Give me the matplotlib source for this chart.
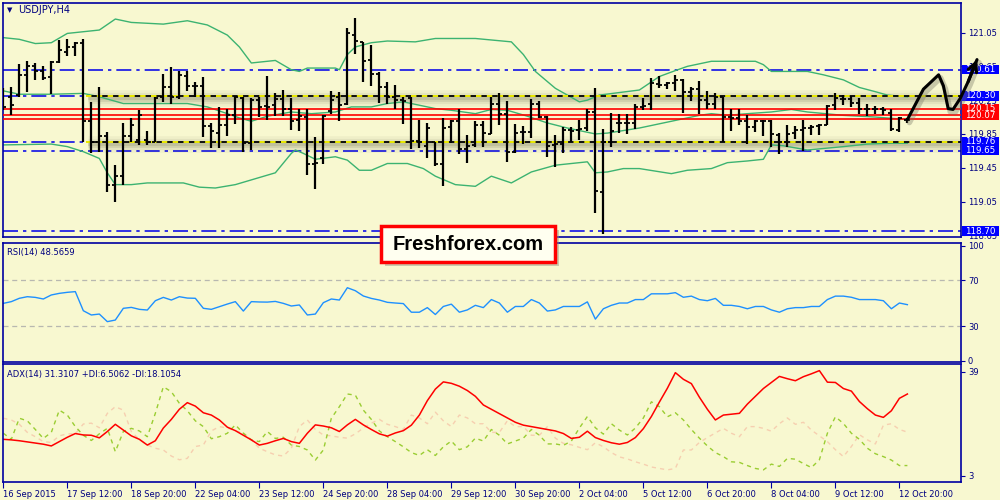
import numpy as np
import matplotlib
matplotlib.use('Agg')
import matplotlib.pyplot as plt
import matplotlib.transforms as mtransforms
from matplotlib.patches import Rectangle

plt.rcParams['font.family'] = ['DejaVu Sans']

BG = '#f8f8d0'
NAVY = '#0000a0'
TXT = '#000080'

# ---- USDJPY H4 bars ----
opens = [120.29, 120.29, 120.31, 120.55, 120.65, 120.59, 120.52, 120.70, 120.82, 120.88,
         120.93, 120.00, 119.76, 119.83, 119.24, 119.35, 119.83, 119.78, 119.78, 119.76,
         120.29, 120.41, 120.29, 120.54, 120.42, 120.42, 119.94, 119.86, 119.96, 120.08,
         120.27, 119.74, 120.25, 120.18, 120.19, 120.26, 120.15, 120.01, 120.05, 119.50,
         119.56, 120.12, 120.29, 120.21, 121.02, 120.94, 120.72, 120.56, 120.40, 120.29,
         120.25, 120.28, 119.77, 119.71, 119.75, 119.50, 119.93, 120.00, 119.67, 119.72,
         119.96, 119.85, 120.21, 120.09, 119.64, 119.87, 119.87, 120.21, 120.05, 119.72,
         119.73, 119.90, 119.90, 119.92, 120.11, 119.16, 119.76, 119.98, 119.98, 119.98,
         120.17, 120.21, 120.44, 120.43, 120.45, 120.49, 120.35, 120.38, 120.25, 120.20,
         120.29, 120.05, 120.04, 120.00, 119.93, 120.00, 120.00, 119.84, 119.75, 119.86,
         119.90, 119.92, 119.94, 119.96, 120.19, 120.26, 120.26, 120.22, 120.15, 120.14,
         120.15, 120.10, 119.90, 120.02]
highs = [120.39, 120.40, 120.68, 120.71, 120.69, 120.66, 120.71, 120.96, 120.97, 120.94,
         120.97, 120.23, 120.40, 119.87, 119.48, 119.98, 120.04, 120.13, 119.88, 120.29,
         120.56, 120.64, 120.60, 120.59, 120.47, 120.52, 119.98, 120.17, 120.14, 120.30,
         120.29, 120.27, 120.29, 120.54, 120.33, 120.37, 120.27, 120.15, 120.15, 119.81,
         120.07, 120.36, 120.35, 121.10, 121.22, 120.94, 120.90, 120.58, 120.46, 120.43,
         120.29, 120.29, 120.02, 119.98, 119.76, 120.04, 120.01, 120.14, 119.84, 120.00,
         120.00, 120.29, 120.33, 120.24, 119.97, 119.94, 120.26, 120.24, 120.06, 119.84,
         119.93, 119.93, 120.02, 120.15, 120.39, 119.91, 120.10, 120.09, 120.09, 120.21,
         120.28, 120.51, 120.54, 120.47, 120.55, 120.50, 120.40, 120.48, 120.36, 120.33,
         120.29, 120.15, 120.15, 120.07, 120.01, 120.02, 120.01, 119.86, 119.96, 119.94,
         120.02, 119.96, 119.97, 120.19, 120.33, 120.31, 120.30, 120.27, 120.20, 120.18,
         120.17, 120.15, 120.05, 120.04]
lows = [120.13, 120.08, 120.29, 120.35, 120.49, 120.49, 120.32, 120.69, 120.77, 120.77,
        119.76, 119.63, 119.64, 119.16, 119.04, 119.24, 119.76, 119.72, 119.72, 119.75,
        120.23, 120.21, 120.26, 120.36, 120.29, 119.81, 119.68, 119.68, 119.82, 119.97,
        119.64, 119.66, 120.05, 120.02, 120.06, 120.06, 119.90, 119.89, 119.36, 119.20,
        119.50, 120.09, 120.00, 120.19, 120.80, 120.47, 120.42, 120.22, 120.21, 120.14,
        119.97, 119.67, 119.68, 119.57, 119.47, 119.23, 119.74, 119.61, 119.51, 119.70,
        119.70, 119.85, 119.96, 119.52, 119.63, 119.73, 119.80, 120.04, 119.58, 119.46,
        119.63, 119.76, 119.78, 119.89, 118.92, 118.67, 119.69, 119.86, 119.85, 119.91,
        120.13, 120.13, 120.39, 120.38, 120.36, 120.10, 120.24, 120.09, 120.15, 120.15,
        119.75, 119.89, 119.95, 119.73, 119.87, 119.82, 119.69, 119.61, 119.69, 119.79,
        119.65, 119.84, 119.84, 119.95, 120.13, 120.19, 120.17, 120.09, 120.06, 120.09,
        120.07, 119.88, 119.87, 119.98]
closes = [120.17, 120.19, 120.55, 120.65, 120.59, 120.51, 120.70, 120.84, 120.88, 120.93,
          120.00, 119.76, 119.83, 119.24, 119.35, 119.83, 119.96, 120.08, 119.76, 120.27,
          120.41, 120.29, 120.55, 120.42, 120.42, 119.94, 119.88, 119.96, 120.08, 120.29,
          119.74, 120.25, 120.17, 120.17, 120.26, 120.14, 120.00, 120.06, 119.50, 119.51,
          120.06, 120.25, 120.19, 121.04, 120.95, 120.71, 120.56, 120.41, 120.29, 120.25,
          120.24, 119.77, 119.76, 119.92, 119.50, 119.92, 120.00, 119.67, 119.71, 119.96,
          119.86, 120.21, 120.09, 119.64, 119.86, 119.87, 120.21, 120.05, 119.71, 119.73,
          119.90, 119.89, 119.91, 120.11, 119.17, 119.76, 119.89, 119.98, 119.98, 120.17,
          120.18, 120.45, 120.43, 120.45, 120.49, 120.35, 120.38, 120.25, 120.20, 120.29,
          120.05, 120.04, 120.00, 119.93, 120.00, 120.00, 119.85, 119.75, 119.85, 119.90,
          119.92, 119.93, 119.96, 120.18, 120.27, 120.26, 120.22, 120.15, 120.14, 120.15,
          120.13, 119.91, 120.04, 120.01]

# Bollinger bands (sampled along the drawn lines)
upper_x = [0, 2, 4, 6, 8, 10, 12, 14, 16, 20, 23, 25.5, 28, 29.5, 31, 33, 34, 36, 37, 38,
           41.5, 42, 43, 44, 46, 48, 51.5, 54, 59, 63.5, 65, 66.5, 69, 72, 73, 74.5, 79.5, 82, 84, 85.5,
           88.5, 94, 95, 96, 100.5, 102.5, 105, 107, 109, 110.5, 113]
upper = [120.99, 120.97, 120.92, 120.93, 121.04, 121.06, 121.08, 121.21, 121.17, 121.15,
         121.19, 121.14, 121.02, 120.88, 120.69, 120.71, 120.72, 120.61, 120.59, 120.63,
         120.63, 120.61, 120.79, 120.88, 120.93, 120.95, 120.94, 120.98, 120.98, 120.94,
         120.79, 120.59, 120.39, 120.23, 120.25, 120.31, 120.37, 120.53, 120.60, 120.65,
         120.71, 120.71, 120.67, 120.59, 120.59, 120.55, 120.49, 120.40, 120.35, 120.31, 120.29]
middle_x = [0, 2, 6, 10, 12, 15, 18.5, 23, 25.5, 28, 29.5, 31, 33, 36, 38.5, 41.5, 43.5, 46, 48, 50,
            52, 54, 56, 59, 61, 63, 65.5, 68, 70.5, 74, 75.5, 79.5, 83.5, 87, 88.5, 90.5, 93, 96, 98.5, 100.5,
            105, 107, 109, 113]
middle = [120.36, 120.32, 120.32, 120.33, 120.29, 120.21, 120.21, 120.21, 120.17, 120.09,
          120.04, 120.00, 120.06, 120.11, 120.09, 120.11, 120.17, 120.17, 120.21, 120.23,
          120.19, 120.15, 120.13, 120.09, 120.14, 120.13, 120.06, 119.98, 119.92, 119.85,
          119.86, 119.92, 120.00, 120.07, 120.09, 120.07, 120.09, 120.11, 120.14, 120.11,
          120.07, 120.06, 120.05, 120.02]
lower_x = [0, 6, 8, 10, 12, 13, 14, 16, 18, 22.5, 24.5, 26.5, 29, 31.5, 34, 36, 36.5, 37.5, 39, 41.5,
           43, 44.5, 46, 48, 49, 50.5, 52.5, 54, 56.5, 59, 61, 63.5, 66, 69, 73, 74, 75.5, 77.5, 79.5, 83.5,
           85.5, 88.5, 90.5, 93, 95, 96, 97.5, 100.5, 105, 108, 111, 113]
lower = [119.72, 119.73, 119.70, 119.64, 119.56, 119.39, 119.25, 119.25, 119.27, 119.27,
         119.22, 119.21, 119.25, 119.32, 119.39, 119.62, 119.66, 119.62, 119.55, 119.58,
         119.54, 119.42, 119.42, 119.50, 119.50, 119.50, 119.44, 119.35, 119.25, 119.23,
         119.35, 119.27, 119.40, 119.48, 119.52, 119.39, 119.40, 119.44, 119.44, 119.38,
         119.42, 119.44, 119.51, 119.53, 119.55, 119.72, 119.71, 119.66, 119.70, 119.73,
         119.74, 119.74]

# horizontal levels
blue_levels = [120.61, 119.65, 118.70]
key_levels = [120.30, 119.76]
red_levels = [120.15, 120.07, 120.03]
key_start = 10.3

# hand drawn forecast path
fc_x = [113, 115, 116.9, 117.5, 118.1, 118.7, 119.6, 120.6, 121.7]
fc_y = [120.02, 120.38, 120.55, 120.42, 120.15, 120.14, 120.27, 120.47, 120.73]

price_ticks = [121.05, 120.65, 120.25, 119.85, 119.45, 119.05, 118.65]
blue_tags = [120.61, 120.30, 119.76, 119.65, 118.70]
red_tags = [120.15, 120.07]

rsi = [49.7, 51.2, 54.1, 55.5, 54.9, 53.5, 57.0, 58.4, 59.3, 59.9,
       43.3, 39.6, 40.4, 33.8, 35.2, 45.4, 46.2, 44.5, 43.9, 52.0,
       54.9, 52.6, 55.5, 54.3, 54.1, 45.4, 44.5, 46.8, 49.1, 51.2,
       43.0, 51.2, 50.9, 50.8, 51.4, 49.7, 47.4, 48.3, 39.6, 40.4,
       50.3, 53.5, 52.6, 63.3, 60.7, 56.1, 54.0, 52.6, 50.6, 50.0,
       49.5, 42, 42, 46, 40, 47, 49, 42, 44, 48,
       46, 53, 50, 42, 47, 47, 53, 50, 43, 44,
       47, 47, 47, 51, 36, 45, 48, 50, 50, 53,
       53, 58, 58, 58, 59, 55, 56, 53, 52, 54,
       48, 48, 47, 45, 47, 47, 44, 42, 45, 46,
       46, 47, 47, 53, 56, 56, 55, 53, 53, 53,
       52, 45, 50, 48.57]

adx = [15.6, 15.4, 15.1, 14.7, 14.3, 13.9, 13.3, 14.8, 16.3, 17.6,
       17.1, 17.0, 16.1, 18.3, 20.8, 18.8, 16.8, 15.6, 13.6, 15.1,
       19.5, 22.5, 26.0, 28.3, 27.1, 24.8, 24.0, 22.3, 19.8, 18.6,
       17.0, 15.4, 13.6, 14.2, 15.1, 15.9, 14.8, 14.2, 17.7, 20.6,
       20.2, 19.6, 18.3, 20.6, 22.5, 20.6, 19.0, 17.5, 16.7, 17.8,
       18.6, 20.5, 24.0, 29.0, 33.0, 35.5, 35.0, 34.0, 32.5, 30.5,
       27.5, 26.0, 24.5, 23.0, 21.5, 20.5, 20.0, 19.5, 19.0, 18.5,
       17.6, 15.9, 16.3, 18.4, 16.2, 15.2, 14.4, 13.9, 14.5, 16.2,
       19.3, 23.5, 28.5, 33.3, 38.7, 36.4, 34.9, 30.2, 26.0, 22.3,
       24.0, 24.3, 24.6, 27.8, 30.5, 33.2, 35.3, 37.4, 36.6, 35.9,
       37.3, 38.3, 39.4, 35.4, 35.3, 33.2, 32.3, 28.7, 26.2, 24.0,
       23.2, 25.5, 29.8, 31.3]
plus_di = [17.7, 15.6, 22.9, 22.0, 19.0, 15.9, 18.0, 25.7, 24.0, 20.0,
           17.0, 15.2, 17.5, 19.4, 11.3, 18.3, 19.4, 18.5, 16.5, 24.6,
           33.8, 32.1, 28.1, 25.5, 22.0, 20.0, 15.8, 16.5, 17.7, 20.6,
           17.7, 15.4, 14.8, 18.3, 15.9, 16.3, 13.6, 13.1, 11.9, 8.4,
           11.9, 22.9, 26.9, 31.3, 30.9, 25.7, 22.5, 18.5, 16.5, 14.8,
           13, 11, 10, 12, 10, 13, 15, 12, 13, 16,
           15, 19, 17, 14, 15, 16, 19, 17, 14, 14,
           13.5, 15.0, 19.5, 23.5, 19.6, 17.4, 21.0, 18.8, 17.1, 19.5,
           23.0, 28.6, 26.9, 23.4, 24.8, 22.3, 19.0, 16.0, 13.3, 11.0,
           9.6, 7.8, 7.6, 6.5, 5.5, 5.0, 7.0, 6.2, 9.0, 8.7,
           7.2, 5.8, 8.5, 17.7, 23.4, 21.1, 17.7, 15.6, 12.5, 10.6,
           9.6, 8.4, 6.5, 6.5]
minus_di = [22.9, 22.3, 20.8, 18.0, 16.5, 14.8, 14.5, 16.8, 17.5, 17.5,
            20.9, 21.2, 19.6, 24.6, 26.9, 25.7, 18.3, 15.5, 13.6, 12.5,
            11.9, 9.8, 8.5, 9.0, 13.1, 13.6, 18.5, 20.0, 19.5, 18.5,
            17.9, 15.4, 12.5, 11.3, 10.2, 9.8, 12.5, 20.0, 22.3, 19.0,
            17.1, 16.8, 16.3, 16.0, 17.5, 19.5, 21.2, 22.5, 20.8, 20.0,
            19, 24, 23, 21, 25, 22, 20, 24, 23, 21,
            21, 18, 18, 22, 20, 20, 17, 17, 20, 16,
            14.2, 13.7, 12.8, 12.0, 14.4, 13.0, 11.0, 9.5, 8.8, 7.8,
            7.0, 6.0, 5.5, 5.0, 5.5, 11.9, 11.9, 14.5, 16.2, 17.8,
            19.4, 17.7, 16.5, 20.0, 20.0, 19.4, 18.4, 21.0, 23.0, 20.8,
            21.5, 18.8, 16.8, 14.8, 12.0, 9.6, 13.1, 17.2, 15.4, 14.0,
            20.5, 21.0, 19.0, 18.1]

time_labels = ['16 Sep 2015', '17 Sep 12:00', '18 Sep 20:00', '22 Sep 04:00', '23 Sep 12:00',
               '24 Sep 20:00', '28 Sep 04:00', '29 Sep 12:00', '30 Sep 20:00', '2 Oct 04:00',
               '5 Oct 12:00', '6 Oct 20:00', '8 Oct 04:00', '9 Oct 12:00', '12 Oct 20:00']

# ---- figure / panels ----
W, H = 1000, 500
fig = plt.figure(figsize=(10, 5), dpi=100, facecolor=BG)


def box(l, t, r, b):
    return [l / W, 1 - b / H, (r - l) / W, (b - t) / H]


ax = fig.add_axes(box(3, 3, 961, 237))
ax_rsi = fig.add_axes(box(3, 243, 961, 362))
ax_adx = fig.add_axes(box(3, 364, 961, 482))
XMIN, XMAX = -0.04, 119.7

for a in (ax, ax_rsi, ax_adx):
    a.set_facecolor(BG)
    a.set_xlim(XMIN, XMAX)
    for s in a.spines.values():
        s.set_color(NAVY)
        s.set_linewidth(1.2)
    a.yaxis.tick_right()
    a.tick_params(axis='y', colors=NAVY, labelcolor=TXT, labelsize=6, length=3, pad=2)
    a.tick_params(axis='x', bottom=False, labelbottom=False)

idx = np.arange(len(closes))

# main price panel
ax.set_ylim(118.63, 121.40)
ax.set_yticks(price_ticks)
ax.set_yticklabels([f'{p:.2f}' for p in price_ticks])

ax.plot(upper_x, upper, color='#3cb371', lw=1, zorder=2)
ax.plot(middle_x, middle, color='#3cb371', lw=1, zorder=2)
ax.plot(lower_x, lower, color='#3cb371', lw=1, zorder=2)

blue_dd = (0, (9, 3, 2, 3))
for lv in blue_levels:
    ax.axhline(lv, color='#1010e8', lw=1.2, ls=blue_dd, zorder=1)
for lv in key_levels:
    ax.hlines(lv, XMIN, key_start, color='#1010e8', lw=1.2, linestyles=blue_dd, zorder=1)

shadow = mtransforms.offset_copy(ax.transData, fig=fig, x=2, y=-2, units='dots')
for lv in key_levels:
    for lw_, al in [(12, 0.05), (8, 0.08), (5, 0.12), (3, 0.15)]:
        ax.plot([key_start, XMAX], [lv, lv], color='#5a5a40', lw=lw_, alpha=al,
                solid_capstyle='butt', transform=shadow, zorder=1.5)
    ax.hlines(lv, key_start, XMAX, color='black', lw=1.3, zorder=3)
    ax.hlines(lv, key_start, XMAX, color='#ffff00', lw=1.3, linestyles=(0, (3, 3)), zorder=3.1)

for lv in red_levels:
    ax.axhline(lv, color='#ff0000', lw=1.2, zorder=3)

# OHLC bars
ax.vlines(idx, lows, highs, color='black', lw=1.6, zorder=5)
ax.hlines(opens, idx - 0.38, idx, color='black', lw=1.3, zorder=5)
ax.hlines(closes, idx, idx + 0.38, color='black', lw=1.3, zorder=5)

# price tags on the right
tr = mtransforms.blended_transform_factory(ax.transAxes, ax.transData)
x0 = (962 - 3) / 958
bw = 37 / 958
for vals, col in [(blue_tags, '#0000ff'), (red_tags, '#ff0000')]:
    for lv in vals:
        ax.add_patch(Rectangle((x0, lv - 0.055), bw, 0.11, transform=tr, facecolor=col,
                               edgecolor='none', clip_on=False, zorder=6))
        ax.text(x0 + bw / 2, lv, f'{lv:.2f}', transform=tr, color='white', fontsize=6.3,
                ha='center', va='center', clip_on=False, zorder=7)

# forecast arrow
sh2 = mtransforms.offset_copy(ax.transData, fig=fig, x=2, y=-3, units='dots')
ax.plot(fc_x, fc_y, color='#707060', lw=4, alpha=0.35, transform=sh2, clip_on=False,
        zorder=19, solid_capstyle='round', solid_joinstyle='round')
ax.plot(fc_x, fc_y, color='black', lw=2.2, clip_on=False, zorder=20,
        solid_capstyle='round', solid_joinstyle='round')
ax.annotate('', xy=(fc_x[-1], fc_y[-1]), xytext=(fc_x[-2], fc_y[-2]),
            arrowprops=dict(arrowstyle='->', lw=2.2, color='black', mutation_scale=16,
                            shrinkA=0, shrinkB=0),
            annotation_clip=False, zorder=21)

# RSI panel
ax_rsi.set_ylim(-1.3, 102.2)
ax_rsi.set_yticks([100, 70, 30, 0])
ax_rsi.axhline(70, color='#b8b8b0', lw=0.9, ls=(0, (4, 3)))
ax_rsi.axhline(30, color='#b8b8b0', lw=0.9, ls=(0, (4, 3)))
ax_rsi.plot(idx, rsi, color='#1e90ff', lw=1)

# ADX panel
ax_adx.set_ylim(0.8, 41.7)
ax_adx.set_yticks([39, 3])
ax_adx.plot(idx, minus_di, color='#f6cfb0', lw=1, ls=(0, (3, 3)))
ax_adx.plot(idx, plus_di, color='#9acd32', lw=1, ls=(0, (3, 3)))
ax_adx.plot(idx, adx, color='#ff0000', lw=1.1)
ax_adx.set_xticks(np.arange(0, 8 * len(time_labels), 8))
ax_adx.set_xticklabels(time_labels)
ax_adx.tick_params(axis='x', bottom=True, labelbottom=True, colors=NAVY, labelcolor=TXT,
                   labelsize=6, length=4, pad=1.5)
plt.setp(ax_adx.get_xticklabels(), ha='left')

# panel captions
fig.text(7 / W, 1 - 10 / H, '\u25bc', fontsize=5, color=TXT, va='center')
fig.text(18 / W, 1 - 10 / H, 'USDJPY,H4', fontsize=7, color=TXT, va='center')
fig.text(7 / W, 1 - 252 / H, 'RSI(14) 48.5659', fontsize=6, color=TXT, va='center')
fig.text(7 / W, 1 - 374 / H, 'ADX(14) 31.3107 +DI:6.5062 -DI:18.1054', fontsize=6,
         color=TXT, va='center')

# watermark box
fig.patches.append(Rectangle((385 / W, 1 - 266 / H), 174 / W, 36 / H, transform=fig.transFigure,
                             facecolor='#909080', alpha=0.45, edgecolor='none', zorder=10))
fig.patches.append(Rectangle((381 / W, 1 - 262 / H), 174 / W, 36 / H, transform=fig.transFigure,
                             facecolor='#fffff0', edgecolor='#ff0000', lw=2.5, zorder=11))
fig.text(468 / W, 1 - 244 / H, 'Freshforex.com', ha='center', va='center', fontsize=14.5,
         fontweight='bold', family='Liberation Sans', color='black', zorder=12)

fig.savefig('out.png', dpi=100, facecolor=BG)
